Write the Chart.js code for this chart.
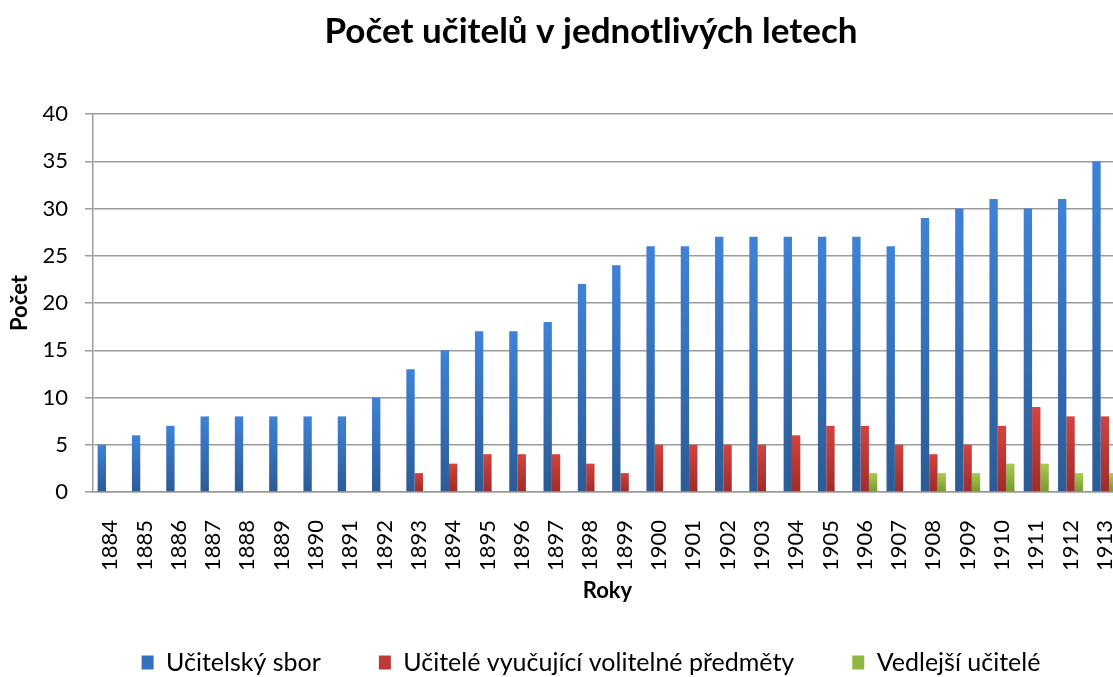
<!DOCTYPE html>
<html>
<head>
<meta charset="utf-8">
<script src="https://cdn.jsdelivr.net/npm/chart.js@4/dist/chart.umd.min.js"></script>
<style>
html,body{margin:0;padding:0;overflow:hidden;background:#fff;}
#wrap{width:1182px;height:677px;position:relative;}
</style>
</head>
<body>
<div id="wrap"><canvas id="c" width="1182" height="677"></canvas></div>
<script>
const years = ['1884','1885','1886','1887','1888','1889','1890','1891','1892','1893','1894','1895','1896','1897','1898','1899','1900','1901','1902','1903','1904','1905','1906','1907','1908','1909','1910','1911','1912','1913'];
const ucitelskySbor = [5,6,7,8,8,8,8,8,10,13,15,17,17,18,22,24,26,26,27,27,27,27,27,26,29,30,31,30,31,35];
const volitelnePredmety = [0,0,0,0,0,0,0,0,0,2,3,4,4,4,3,2,5,5,5,5,6,7,7,5,4,5,7,9,8,8];
const vedlejsiUcitele = [0,0,0,0,0,0,0,0,0,0,0,0,0,0,0,0,0,0,0,0,0,0,2,0,2,2,3,3,2,2];
const seriesNames = ['Učitelský sbor','Učitelé vyučující volitelné předměty','Vedlejší učitelé'];
const yTicks = [0,5,10,15,20,25,30,35,40];

const FONT = 'Lato, "Open Sans", sans-serif';

function barGradient(top, bottom) {
  return function(ctx) {
    const chart = ctx.chart;
    const ys = chart.scales && chart.scales.y;
    if (!ys || ctx.parsed == null || ctx.parsed.y == null) return bottom;
    const yTop = ys.getPixelForValue(ctx.parsed.y);
    const yBot = ys.getPixelForValue(0);
    if (!isFinite(yTop) || !isFinite(yBot) || Math.abs(yBot - yTop) < 1) return bottom;
    const g = chart.ctx.createLinearGradient(0, yTop, 0, yBot);
    g.addColorStop(0, top);
    g.addColorStop(1, bottom);
    return g;
  };
}

const legendSwatch = {'Učitelský sbor':'#3470bd','Učitelé vyučující volitelné předměty':'#bf3a36','Vedlejší učitelé':'#8fb843'};

new Chart(document.getElementById('c'), {
  type: 'bar',
  data: {
    labels: years,
    datasets: [
      {label: seriesNames[0], data: ucitelskySbor, backgroundColor: barGradient('#3f82d6','#2c5b95'), borderWidth: 0},
      {label: seriesNames[1], data: volitelnePredmety, backgroundColor: barGradient('#d3433e','#9d2c29'), borderWidth: 0},
      {label: seriesNames[2], data: vedlejsiUcitele, backgroundColor: barGradient('#a6cc52','#76992f'), borderWidth: 0}
    ]
  },
  options: {
    responsive: false,
    animation: false,
    events: [],
    layout: {padding: 0},
    datasets: {bar: {categoryPercentage: 0.73, barPercentage: 1.0}},
    plugins: {
      tooltip: {enabled: false},
      title: {
        display: true,
        text: 'Počet učitelů v jednotlivých letech',
        color: '#000',
        font: {family: FONT, size: 35, weight: 'bold', lineHeight: 1.2},
        padding: {top: 11, bottom: 61}
      },
      legend: {
        position: 'bottom',
        maxHeight: 85,
        labels: {
          color: '#000',
          font: {family: FONT, size: 25},
          boxWidth: 12,
          boxHeight: 14,
          padding: 58,
          generateLabels: function(chart) {
            return chart.data.datasets.map((ds, i) => ({
              text: ds.label,
              fillStyle: legendSwatch[ds.label],
              strokeStyle: legendSwatch[ds.label],
              lineWidth: 0,
              hidden: false,
              datasetIndex: i,
              fontColor: '#000'
            }));
          }
        }
      }
    },
    scales: {
      x: {
        grid: {display: false},
        border: {display: true, color: '#999', width: 1.5},
        ticks: {
          color: '#000',
          font: {family: FONT, size: 22},
          minRotation: 90, maxRotation: 90,
          padding: 20,
          autoSkip: false
        },
        title: {
          display: true, text: 'Roky', color: '#000',
          font: {family: FONT, size: 22, weight: 'bold', lineHeight: 1.2},
          padding: {top: 0, bottom: -12}
        },
        afterFit: s => { s.height = 100; }
      },
      y: {
        min: yTicks[0], max: yTicks[yTicks.length - 1],
        afterBuildTicks: s => { s.ticks = yTicks.map(v => ({value: v})); },
        grid: {color: '#9c9c9c', lineWidth: 1.5, tickLength: 8, drawTicks: true},
        border: {display: true, color: '#9c9c9c', width: 1.5},
        ticks: {
          color: '#000',
          font: {family: FONT, size: 22},
          padding: 17
        },
        title: {
          display: true, text: 'Počet', color: '#000',
          font: {family: FONT, size: 22, weight: 'bold', lineHeight: 1.2},
          padding: {top: 7, bottom: 0}
        },
        afterFit: s => { s.width = 93; }
      },
      yr: {
        position: 'right',
        display: true,
        grid: {display: false},
        border: {display: false},
        ticks: {display: false},
        afterFit: s => { s.width = 60; }
      }
    }
  }
});
</script>
</body>
</html>
